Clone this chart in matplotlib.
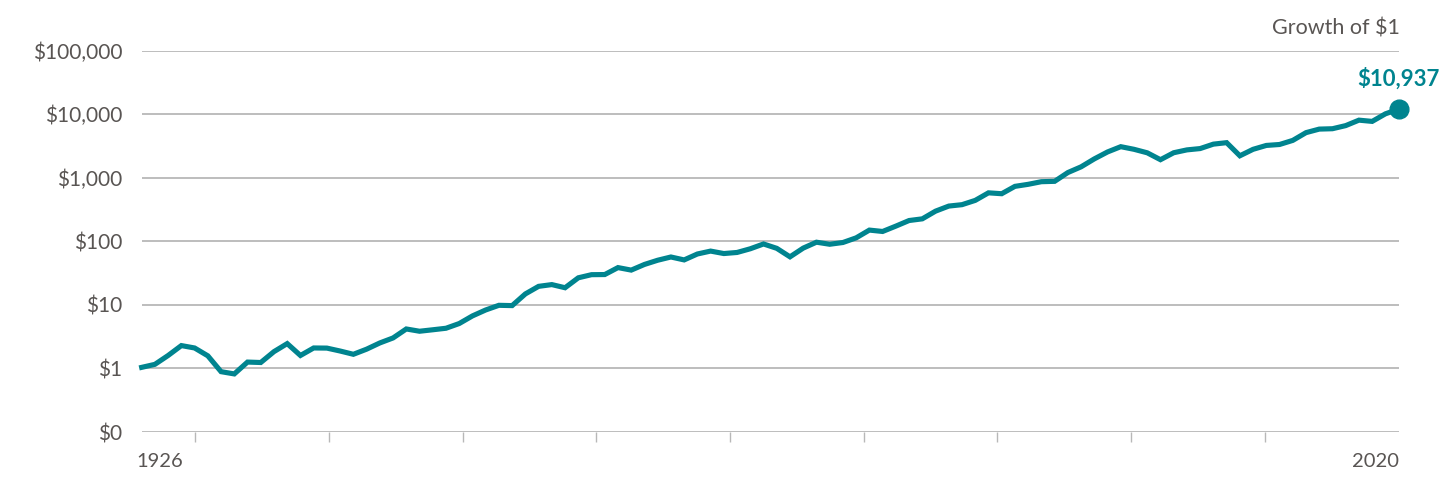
import numpy as np
import matplotlib
matplotlib.use("Agg")
import matplotlib.pyplot as plt
from matplotlib.ticker import FixedLocator, NullLocator

# Growth of $1, year-end values, 1925 (start) through 2020
years = list(range(1925, 2021))
values = [
    1.04, 1.16, 1.60, 2.29, 2.10, 1.58, 0.89, 0.82, 1.26, 1.24,
    1.84, 2.46, 1.60, 2.10, 2.09, 1.88, 1.67, 2.01, 2.52, 3.02,
    4.18, 3.85, 4.06, 4.29, 5.09, 6.71, 8.32, 9.85, 9.75, 14.89,
    19.58, 20.87, 18.62, 26.69, 29.89, 30.03, 38.64, 35.27, 43.30, 50.44,
    56.72, 51.02, 63.25, 70.25, 64.27, 66.85, 76.42, 90.92, 77.60, 57.05,
    78.28, 96.94, 89.99, 95.88, 113.5, 150.3, 143.0, 173.6, 212.6, 226.0,
    298.6, 358.8, 377.6, 441.1, 579.9, 561.5, 733.0, 789.2, 868.1, 879.5,
    1208.7, 1487.5, 1983.8, 2550.8, 3087.5, 2806.5, 2472.8, 1926.3, 2478.8, 2748.5,
    2883.5, 3385.0, 3571.0, 2219.0, 2806.0, 3229.0, 3342.0, 3877.0, 5133.0, 5836.0,
    5916.0, 6624.0, 8070.0, 7716.0, 10146.0, 12031.0,
]
y_ticks = [0.1, 1, 10, 100, 1000, 10000, 100000]
y_labels = ["$0", "$1", "$10", "$100", "$1,000", "$10,000", "$100,000"]
x_ticks = [1930, 1940, 1950, 1960, 1970, 1980, 1990, 2000, 2010]
x_start, x_end = 1926, 2020
end_label = "$10,937"
title = "Growth of $1"

teal = "#00848f"
text_col = "#595553"
grid_col = "#b8b8b8"

plt.rcParams["font.family"] = ["Lato", "DejaVu Sans"]

fig = plt.figure(figsize=(14.56, 4.94), dpi=100)
ax = fig.add_axes([0.0973, 0.1255, 0.8633, 0.7719])

xs = np.linspace(x_start, x_end, len(values))
ax.plot(xs, values, color=teal, lw=3.7, solid_joinstyle="miter", zorder=3, clip_on=False)
ax.plot(xs[-1], values[-1], "o", color=teal, ms=13.5, zorder=4, clip_on=False)
ax.annotate(end_label, (xs[-1], values[-1]), xytext=(0, 14.3), textcoords="offset points",
            ha="center", va="bottom", color=teal, fontsize=16, fontweight="bold")

ax.set_yscale("log")
ax.set_ylim(0.1, 100000)
ax.set_xlim(x_start, x_end)
ax.yaxis.set_major_locator(FixedLocator(y_ticks))
ax.yaxis.set_minor_locator(NullLocator())
ax.set_yticklabels(y_labels)
ax.tick_params(axis="y", length=0, pad=14, labelsize=15, labelcolor=text_col)
for yv in y_ticks:
    ax.axhline(yv, color=grid_col, lw=1.3, zorder=1)

ax.set_xticks(x_ticks)
ax.set_xticklabels([])
ax.tick_params(axis="x", length=7, width=1, color=grid_col)

for s in ax.spines.values():
    s.set_visible(False)

ax.annotate(str(x_start), (x_start, 0), xycoords=ax.get_xaxis_transform(),
            xytext=(-4, -15), textcoords="offset points",
            ha="left", va="top", fontsize=14.5, color=text_col)
ax.annotate(str(x_end), (x_end, 0), xycoords=ax.get_xaxis_transform(),
            xytext=(0.5, -15), textcoords="offset points",
            ha="right", va="top", fontsize=14.5, color=text_col)
ax.text(1.001, 1.032, title, transform=ax.transAxes, ha="right", va="bottom",
        fontsize=15.5, color=text_col)

fig.savefig("out.png", dpi=100)
